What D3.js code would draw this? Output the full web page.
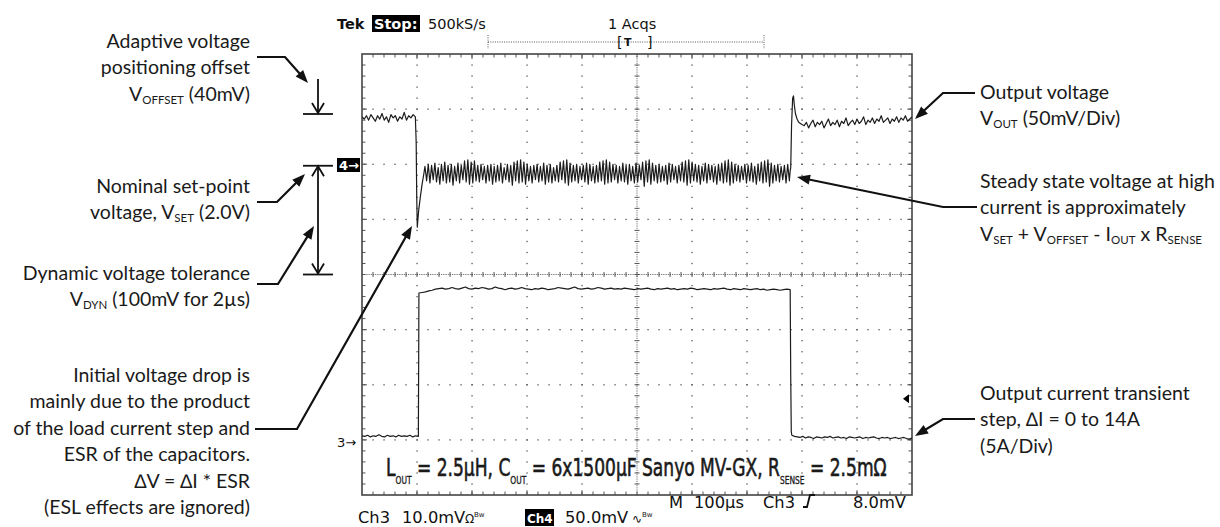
<!DOCTYPE html>
<html><head><meta charset="utf-8">
<script src="https://cdn.jsdelivr.net/npm/d3@7"></script>
<style>body{margin:0;background:#fff}svg{display:block}</style>
</head><body>
<svg id="c" width="1220" height="527"></svg>
<script>
// ---------------- DATA ----------------
// Ch4 : output voltage, mV relative to VSET (2.0 V), 50 mV/div. Time in µs, 100 µs/div.
const ch4PreSpan = [0, 97];
const ch4Pre = [43,41,44,40,45,42,39,44,41,46,40,43,38,45,42,44,39,43,41,47,40,44,42,45,43];
const ch4DropT = [98.5, 99.5, 100.5, 103, 106, 109, 112];
const ch4DropV = [20, -30, -57, -42, -30, -19, -10];
const ch4RippleSpan = [114.5, 777];
const ch4Ripple = [
 -2,-15,0,-17,-1,-14,1,-16,-3,-18,0,-15,2,-17,-1,-16,0,-19,-2,-15,
 1,-17,-1,-14,3,-16,4,-18,2,-17,3,-15,-1,-16,0,-14,-2,-17,-1,-15,
 0,-18,-2,-16,-1,-15,1,-17,-3,-14,0,-16,-1,-19,2,-15,3,-17,4,-16,
 2,-18,0,-15,-2,-17,-1,-14,0,-16,-2,-15,1,-18,-1,-16,0,-17,-3,-15,
 -1,-16,2,-14,3,-17,4,-19,1,-16,-1,-15,0,-17,-2,-14,-1,-16,1,-18,
 0,-15,-2,-17,-1,-16,2,-15,3,-18,4,-17,2,-16,0,-14,-1,-17,-2,-15,
 1,-16,-1,-18,0,-15,-2,-17,1,-16,-1,-14,2,-20,3,-16,4,-18,1,-15,
 -1,-17,0,-16,-2,-15,-1,-18,1,-16,0,-14,-2,-17,-1,-15,2,-16,3,-19,
 4,-17,2,-15,0,-16,-1,-18,-2,-15,1,-17,0,-14,-1,-16,-2,-18,0,-15,
 1,-17,3,-16,4,-19,2,-17,0,-15,-1,-16,-2,-14,0,-17,-1,-15,1,-16,
 -2,-18,0,-15,2,-17,3,-16,4,-20,1,-17,-1,-15,0,-16,-2,-14,-1,-17,
 0,-15];
const ch4RecovT = [778.5, 779.5, 781, 783, 784.5, 786, 788, 791, 794, 797, 800];
const ch4RecovV = [-6, -3, 35, 60, 62, 54, 46, 41, 38, 37, 36];
const ch4PostSpan = [804, 1000];
const ch4Post = [35,38,33,37,40,34,38,36,39,33,37,41,35,38,36,40,34,39,37,42,
 35,38,40,36,41,37,39,43,36,40,38,42,37,41,39,44,38,40,42,37,
 41,39,43,38,42,40,44,39,41,43];

// Ch3 : output current, A, 5 A/div.
const ch3PreSpan = [0, 102.5];
const ch3Pre = [0.55,0.5,0.6,0.45,0.55,0.5,0.65,0.5,0.45,0.6,0.5,0.55,0.45,0.6,0.5,0.55,0.5,0.6,0.45,0.55,0.5];
const ch3HighSpan = [103.5, 778.5];
const ch3High = [13.5,13.55,13.6,13.7,13.75,13.85,13.9,13.95,13.85,13.9,14.0,13.9,13.85,13.95,14.05,13.9,13.85,13.95,13.9,14.0,
 13.95,13.85,13.9,14.05,13.95,13.9,13.8,13.9,13.95,13.85,13.9,14.0,13.9,13.85,13.8,13.9,13.85,13.95,13.9,13.8,
 13.85,13.9,14.0,13.95,13.9,13.85,13.95,14.05,13.9,13.85,13.9,13.95,13.85,13.9,14.0,13.95,13.85,13.9,13.95,13.85,
 13.9,13.85,13.95,13.9,13.85,13.8,13.9,13.85,13.9,13.95,13.85,13.8,13.9,13.85,13.9,13.95,13.85,13.9,13.8,13.85,
 13.9,13.85,13.95,13.9,13.8,13.85,13.9,13.85,13.8,13.9,13.85,13.9,13.95,13.85,13.8,13.9,13.85,13.8,13.9,13.85,
 13.8,13.85,13.9,13.8,13.85,13.75,13.8,13.85,13.8,13.75,13.8,13.85,13.8];
const ch3FallT = [779.5, 780.5];
const ch3FallV = [6.0, 0.9];
const ch3PostSpan = [781.5, 1000];
const ch3Post = [0.6,0.5,0.45,0.4,0.5,0.35,0.45,0.4,0.3,0.45,0.4,0.35,0.45,0.4,0.5,0.35,0.4,0.45,0.35,0.4,
 0.3,0.45,0.4,0.35,0.4,0.45,0.3,0.4,0.35,0.4,0.45,0.35,0.3,0.4,0.35,0.4,0.3,0.35,0.4,0.3,0.35,0.4,0.3,0.25,0.35];

// Scope readouts
const topReadout = {tek: "Tek", stop: "Stop:", rate: "500kS/s", acqs: "1 Acqs"};
const ch3Scale = "10.0mV", ch4Scale = "50.0mV";

// ---------------- HELPERS ----------------
function spread(span, vals) {
  const n = vals.length;
  return vals.map((v, i) => [span[0] + (span[1] - span[0]) * i / (n - 1), v]);
}
function pairs(ts, vs) { return ts.map((t, i) => [t, vs[i]]); }

const ch4 = [].concat(spread(ch4PreSpan, ch4Pre), pairs(ch4DropT, ch4DropV),
  spread(ch4RippleSpan, ch4Ripple), pairs(ch4RecovT, ch4RecovV), spread(ch4PostSpan, ch4Post));
const ch3 = [].concat(spread(ch3PreSpan, ch3Pre), spread(ch3HighSpan, ch3High),
  pairs(ch3FallT, ch3FallV), spread(ch3PostSpan, ch3Post));

// ---------------- SCALES ----------------
const L = 362, R = 912, T = 54, B = 495;
const x = d3.scaleLinear().domain([0, 1000]).range([L, R]);          // µs
const yV = d3.scaleLinear().domain([-300, 100]).range([B, T]);       // mV rel. VSET
const yI = d3.scaleLinear().domain([-4.82, 35.18]).range([B, T]);    // A
const dX = d3.scaleLinear().domain([0, 10]).range([L, R]);           // divisions
const dY = d3.scaleLinear().domain([0, 8]).range([T, B]);

const svg = d3.select("#c");
const gridC = "#555";

// ---------------- GRID ----------------
const grid = svg.append("g");
const minorX = d3.range(1, 50).map(i => i / 5);
const minorY = d3.range(1, 40).map(i => i / 5);
[1,2,3,4,6,7,8,9].forEach(i => {
  grid.selectAll(null).data(minorY).enter().append("rect")
    .attr("x", dX(i) - 0.6).attr("y", d => dY(d) - 0.6).attr("width", 1.3).attr("height", 1.3).attr("fill", gridC);
  [0.5, 1, 1.5].forEach(k => {
    grid.append("rect").attr("x", dX(i) - 0.6).attr("y", dY(0) + k * 2.4).attr("width", 1.2).attr("height", 1.2).attr("fill", gridC);
    grid.append("rect").attr("x", dX(i) - 0.6).attr("y", dY(8) - k * 2.4 - 1).attr("width", 1.2).attr("height", 1.2).attr("fill", gridC);
  });
});
[1,2,3,5,6,7].forEach(j => {
  grid.selectAll(null).data(minorX).enter().append("rect")
    .attr("x", d => dX(d) - 0.6).attr("y", dY(j) - 0.6).attr("width", 1.3).attr("height", 1.3).attr("fill", gridC);
  [0.5, 1, 1.5].forEach(k => {
    grid.append("rect").attr("x", dX(0) + k * 2.4).attr("y", dY(j) - 0.6).attr("width", 1.2).attr("height", 1.2).attr("fill", gridC);
    grid.append("rect").attr("x", dX(10) - k * 2.4 - 1).attr("y", dY(j) - 0.6).attr("width", 1.2).attr("height", 1.2).attr("fill", gridC);
  });
});
grid.append("line").attr("x1", dX(5)).attr("x2", dX(5)).attr("y1", T).attr("y2", B)
  .attr("stroke", gridC).attr("stroke-width", 1).attr("stroke-dasharray", "1,1.2");
grid.append("line").attr("x1", L).attr("x2", R).attr("y1", dY(4)).attr("y2", dY(4))
  .attr("stroke", gridC).attr("stroke-width", 1).attr("stroke-dasharray", "1,1.2");
grid.selectAll(null).data(minorY).enter().append("line")
  .attr("x1", dX(5) - 2.5).attr("x2", dX(5) + 2.5).attr("y1", d => dY(d)).attr("y2", d => dY(d))
  .attr("stroke", gridC).attr("stroke-width", 1);
grid.selectAll(null).data(minorX).enter().append("line")
  .attr("y1", dY(4) - 2.5).attr("y2", dY(4) + 2.5).attr("x1", d => dX(d)).attr("x2", d => dX(d))
  .attr("stroke", gridC).attr("stroke-width", 1);
grid.selectAll(null).data(minorY).enter().append("line")
  .attr("x1", L).attr("x2", L + 3.5).attr("y1", d => dY(d)).attr("y2", d => dY(d)).attr("stroke", gridC);
grid.selectAll(null).data(minorY).enter().append("line")
  .attr("x1", R).attr("x2", R - 3.5).attr("y1", d => dY(d)).attr("y2", d => dY(d)).attr("stroke", gridC);
grid.selectAll(null).data(minorX).enter().append("line")
  .attr("y1", T).attr("y2", T + 3.5).attr("x1", d => dX(d)).attr("x2", d => dX(d)).attr("stroke", gridC);
grid.selectAll(null).data(minorX).enter().append("line")
  .attr("y1", B).attr("y2", B - 3.5).attr("x1", d => dX(d)).attr("x2", d => dX(d)).attr("stroke", gridC);
svg.append("rect").attr("x", L).attr("y", T).attr("width", R - L).attr("height", B - T)
  .attr("fill", "none").attr("stroke", "#444").attr("stroke-width", 1.6);

// ---------------- TRACES ----------------
svg.append("clipPath").attr("id", "clip").append("rect").attr("x", L).attr("y", T).attr("width", R - L).attr("height", B - T);
const traces = svg.append("g").attr("clip-path", "url(#clip)");
traces.append("path").datum(ch4)
  .attr("d", d3.line().x(d => x(d[0])).y(d => yV(d[1])))
  .attr("fill", "none").attr("stroke", "#1c1c1c").attr("stroke-width", 1.2).attr("stroke-linejoin", "round");
traces.append("path").datum(ch3)
  .attr("d", d3.line().x(d => x(d[0])).y(d => yI(d[1])))
  .attr("fill", "none").attr("stroke", "#1c1c1c").attr("stroke-width", 1.2).attr("stroke-linejoin", "round");

// ---------------- SCOPE READOUTS ----------------
const mono = "'DejaVu Sans', Verdana, sans-serif";
function rd(px, py, s, size, opts = {}) {
  return svg.append("text").attr("x", px).attr("y", py).attr("font-family", mono).attr("font-size", size)
    .attr("font-weight", opts.bold ? "bold" : "normal").attr("fill", opts.fill || "#111").text(s);
}
rd(337, 29, topReadout.tek, 14.5, {bold: true});
svg.append("rect").attr("x", 372).attr("y", 15).attr("width", 48).attr("height", 17).attr("fill", "#000");
rd(374, 29, topReadout.stop, 14.5, {bold: true, fill: "#fff"});
rd(428, 29, topReadout.rate, 14.5);
rd(608, 29, topReadout.acqs, 14.5);
svg.append("line").attr("x1", 488).attr("x2", 764).attr("y1", 42).attr("y2", 42)
  .attr("stroke", "#555").attr("stroke-dasharray", "1,1.3");
[488, 764].forEach(v => svg.append("line").attr("x1", v).attr("x2", v).attr("y1", 35).attr("y2", 49)
  .attr("stroke", "#555").attr("stroke-dasharray", "1,1.3"));
rd(617, 47, "[", 14);
rd(624, 46, "T", 11, {bold: true});
rd(647, 47, "]", 14);

// channel markers
svg.append("rect").attr("x", 337).attr("y", 158).attr("width", 23).attr("height", 14).attr("fill", "#000");
rd(339, 170, "4→", 13, {bold: true, fill: "#fff"});
rd(337, 447, "3→", 13);
svg.append("path").attr("d", `M${R - 9},${yI(3.9)} l6,-4.5 v9 z`).attr("fill", "#000");

// bottom readout
rd(669, 508, "M", 16.3);
rd(694, 508, "100µs", 16.3);
rd(763, 508, "Ch3", 16.3);
svg.append("path").attr("d", "M803,507 H807 L810,495 H815").attr("fill", "none").attr("stroke", "#111").attr("stroke-width", 1.8);
rd(853, 508, "8.0mV", 16.3);
rd(358, 523, "Ch3", 16.3);
rd(402, 523, ch3Scale, 16.3);
rd(465, 523, "Ω", 12);
rd(474, 517, "Bw", 7);
svg.append("rect").attr("x", 525).attr("y", 509).attr("width", 29).attr("height", 17).attr("fill", "#000");
rd(527, 523, "Ch4", 12, {bold: true, fill: "#fff"});
rd(565, 523, ch4Scale, 16.3);
rd(632, 523, "∿", 12);
rd(642, 517, "Bw", 7);

// big condition text
const big = svg.append("text").attr("x", 0).attr("y", 0)
  .attr("font-family", "'Liberation Sans Narrow','DejaVu Sans Condensed','Roboto Condensed',sans-serif")
  .attr("font-stretch", "condensed").attr("font-size", 25).attr("fill", "#1a1a1a")
  .attr("stroke", "#1a1a1a").attr("stroke-width", 0.6);
const bigSegs = [["L"], ["OUT", 1], [" = 2.5µH, C"], ["OUT", 1], [" = 6x1500µF Sanyo MV-GX, R"], ["SENSE", 1], [" = 2.5mΩ"]];
let inSub = false;
bigSegs.forEach(([s, sub]) => {
  const t = big.append("tspan").text(s);
  if (sub) { t.attr("font-size", 11).attr("stroke-width", 0.3); if (!inSub) t.attr("dy", 8); inSub = true; }
  else if (inSub) { t.attr("dy", -8); inSub = false; }
});
const bb = big.node().getBBox();
big.attr("transform", `translate(386,476) scale(${501 / bb.width},1)`);

// ---------------- ANNOTATIONS ----------------
const annFont = "Lato, 'Noto Sans', sans-serif";
const annSize = 19.5;
function annText(px, py, segs, anchor) {
  const t = svg.append("text").attr("x", px).attr("y", py).attr("font-family", annFont)
    .attr("font-size", annSize).attr("fill", "#1a1a1a").attr("text-anchor", anchor);
  let sub = false;
  segs.forEach(sg => {
    const isSub = typeof sg === "object";
    const s = isSub ? sg.s : sg;
    const ts = t.append("tspan").text(s);
    if (isSub) { ts.attr("font-size", 11.5); if (!sub) ts.attr("dy", 3); sub = true; }
    else if (sub) { ts.attr("dy", -3); sub = false; }
  });
}
const leftLines = [
  [48, ["Adaptive voltage"]],
  [74, ["positioning offset"]],
  [101, ["V", {s: "OFFSET"}, " (40mV)"]],
  [193, ["Nominal set-point"]],
  [219, ["voltage, V", {s: "SET"}, " (2.0V)"]],
  [280, ["Dynamic voltage tolerance"]],
  [306, ["V", {s: "DYN"}, " (100mV for 2µs)"]],
  [382, ["Initial voltage drop is"]],
  [408, ["mainly due to the product"]],
  [435, ["of the load current step and"]],
  [461, ["ESR of the capacitors."]],
  [488, ["∆V = ∆I * ESR"]],
  [514, ["(ESL effects are ignored)"]]
];
leftLines.forEach(([py, segs]) => annText(250, py, segs, "end"));
const rightLines = [
  [99, ["Output voltage"]],
  [125, ["V", {s: "OUT"}, " (50mV/Div)"]],
  [188, ["Steady state voltage at high"]],
  [214, ["current is approximately"]],
  [241, ["V", {s: "SET"}, " + V", {s: "OFFSET"}, " - I", {s: "OUT"}, " x R", {s: "SENSE"}]],
  [400, ["Output current transient"]],
  [426, ["step, ∆I = 0 to 14A"]],
  [453, ["(5A/Div)"]]
];
rightLines.forEach(([py, segs]) => annText(980, py, segs, "start"));

function leader(pts) {
  const n = pts.length;
  const [x2, y2] = pts[n - 1], [x1, y1] = pts[n - 2];
  const a = Math.atan2(y2 - y1, x2 - x1), len = 13, hw = 5;
  const bx = x2 - len * Math.cos(a), by = y2 - len * Math.sin(a);
  const line = pts.slice(0, n - 1).concat([[bx + 2 * Math.cos(a), by + 2 * Math.sin(a)]]);
  svg.append("path").attr("d", d3.line()(line)).attr("fill", "none").attr("stroke", "#111")
    .attr("stroke-width", 2.2).attr("stroke-linejoin", "miter");
  svg.append("path").attr("d",
    `M${x2},${y2} L${bx - hw * Math.sin(a)},${by + hw * Math.cos(a)} L${bx + hw * Math.sin(a)},${by - hw * Math.cos(a)} Z`)
    .attr("fill", "#111");
}
leader([[257, 57], [285, 57], [308, 83]]);
leader([[257, 202], [277, 202], [305, 174]]);
leader([[257, 284], [278, 284], [314, 226]]);
leader([[255, 429], [297, 429], [412, 226]]);
leader([[975, 93], [943, 93], [915, 119]]);
leader([[977, 207], [943, 207], [797, 177]]);
leader([[975, 419], [943, 419], [915, 436]]);

const mk = svg.append("g").attr("stroke", "#111").attr("fill", "none").attr("stroke-width", 1.8);
mk.append("line").attr("x1", 303).attr("x2", 333).attr("y1", 114).attr("y2", 114);
mk.append("line").attr("x1", 318).attr("x2", 318).attr("y1", 79).attr("y2", 113);
mk.append("path").attr("d", "M312,103 L318,113 L324,103");
mk.append("line").attr("x1", 303).attr("x2", 333).attr("y1", yV(0) + 1.5).attr("y2", yV(0) + 1.5);
mk.append("line").attr("x1", 303).attr("x2", 333).attr("y1", yV(-100)).attr("y2", yV(-100));
mk.append("line").attr("x1", 318).attr("x2", 318).attr("y1", yV(0) + 2).attr("y2", yV(-100) - 1);
mk.append("path").attr("d", `M312,${yV(0) + 12} L318,${yV(0) + 2} L324,${yV(0) + 12}`);
mk.append("path").attr("d", `M312,${yV(-100) - 11} L318,${yV(-100) - 1} L324,${yV(-100) - 11}`);
</script>
</body></html>
